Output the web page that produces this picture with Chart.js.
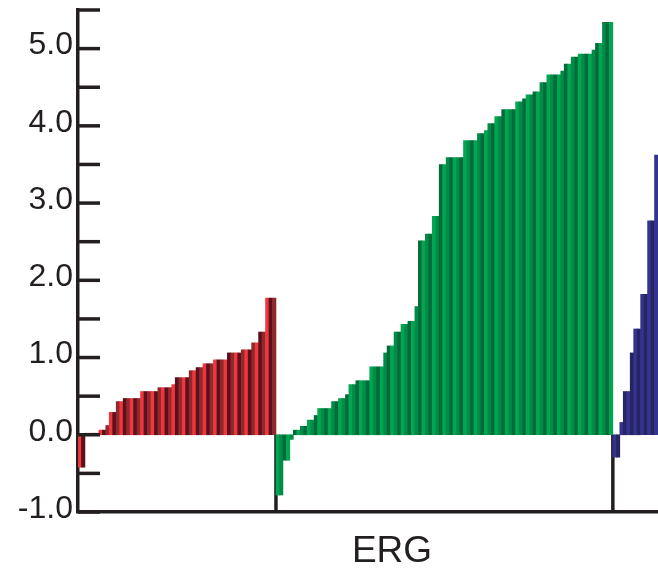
<!DOCTYPE html>
<html>
<head>
<meta charset="utf-8">
<script src="https://cdn.jsdelivr.net/npm/chart.js@4"></script>
<style>
  html, body { margin: 0; padding: 0; background: #fff; overflow: hidden; }
  canvas { display: block; }
</style>
</head>
<body>
<canvas id="ergChart" width="658" height="568"></canvas>
<script>
// bar heights, one entry per sample, left to right
const redValues = [-0.42, -0.42, 0.02, 0.02, 0.02, 0.02, 0.06, 0.06, 0.12, 0.29, 0.29, 0.43, 0.43,
  0.47, 0.47, 0.47, 0.47, 0.47, 0.56, 0.56, 0.56, 0.56, 0.56, 0.61, 0.61, 0.61, 0.61, 0.65,
  0.74, 0.74, 0.74, 0.74, 0.83, 0.83, 0.87, 0.87, 0.92, 0.92, 0.92, 0.97, 0.97, 0.97, 0.97,
  1.06, 1.06, 1.06, 1.06, 1.10, 1.10, 1.10, 1.19, 1.19, 1.33, 1.33, 1.77, 1.77, 1.77];

const greenValues = [-0.78, -0.78, -0.33, -0.33, -0.06, 0.06, 0.06, 0.11, 0.11, 0.19, 0.19, 0.25,
  0.34, 0.34, 0.34, 0.34, 0.43, 0.43, 0.47, 0.47, 0.52, 0.65, 0.65, 0.70, 0.70, 0.70, 0.70,
  0.88, 0.88, 0.88, 0.88, 1.06, 1.15, 1.15, 1.33, 1.33, 1.43, 1.43, 1.47, 1.47, 1.66,
  2.51, 2.51, 2.60, 2.60, 2.83, 2.83, 3.50, 3.50, 3.59, 3.59, 3.59, 3.59, 3.59,
  3.81, 3.81, 3.81, 3.81, 3.90, 3.90, 3.94, 4.03, 4.03, 4.12, 4.12,
  4.21, 4.21, 4.21, 4.21, 4.31, 4.31, 4.35, 4.40, 4.40, 4.44, 4.44, 4.56, 4.56,
  4.66, 4.66, 4.66, 4.66, 4.71, 4.80, 4.80, 4.89, 4.89, 4.93, 4.93, 4.93, 4.93, 4.98,
  5.07, 5.07, 5.34, 5.34, 5.34];

const blueValues = [-0.29, -0.29, 0.16, 0.56, 0.56, 1.06, 1.37, 1.37, 1.82, 1.82, 2.77, 2.77, 3.62];

const yTickLabels = ['-1.0', '0.0', '1.0', '2.0', '3.0', '4.0', '5.0'];
const xTitle = 'ERG';

const redShades = ['#ee363c', '#5c0f1c', '#8e2a2c'];
const greenShades = ['#00a651', '#008b46', '#006b39'];
const blueShades = ['#33348f', '#282462'];

const ink = '#231f20';

const values = [...redValues, ...greenValues, ...blueValues];
const categories = values.map((v, i) => 's' + (i + 1));

const colors = [];
redValues.forEach((v, i) => colors.push(redShades[i % redShades.length]));
greenValues.forEach((v, i) => colors.push(greenShades[i % greenShades.length]));
blueValues.forEach((v, i) => colors.push(blueShades[i % blueShades.length]));

// group boundaries (index of first bar of green and blue groups)
const groupStarts = [redValues.length, redValues.length + greenValues.length];

const decorations = {
  id: 'decorations',
  beforeDatasetsDraw(chart) {
    const { ctx, scales: { x, y } } = chart;
    const half = (x.getPixelForValue(1) - x.getPixelForValue(0)) / 2;
    ctx.save();
    ctx.strokeStyle = ink;
    ctx.lineWidth = 3.5;
    groupStarts.forEach((idx) => {
      const px = x.getPixelForValue(idx) - half;
      ctx.beginPath();
      ctx.moveTo(px, y.getPixelForValue(0));
      ctx.lineTo(px, y.getPixelForValue(-1));
      ctx.stroke();
    });
    ctx.restore();
  },
  afterDraw(chart) {
    const { ctx, chartArea, scales: { y } } = chart;
    ctx.save();
    // inward tick marks on the value axis
    ctx.strokeStyle = ink;
    ctx.lineWidth = 3.5;
    y.ticks.forEach((t) => {
      const py = y.getPixelForValue(t.value);
      ctx.beginPath();
      ctx.moveTo(chartArea.left, py);
      ctx.lineTo(chartArea.left + 22, py);
      ctx.stroke();
    });
    ctx.fillStyle = ink;
    ctx.font = '37px "Liberation Sans", Arial, sans-serif';
    ctx.textAlign = 'center';
    ctx.textBaseline = 'alphabetic';
    ctx.fillText(xTitle, 392, 562);
    ctx.restore();
  },
};

new Chart(document.getElementById('ergChart'), {
  type: 'bar',
  data: {
    labels: categories,
    datasets: [
      {
        data: values,
        backgroundColor: colors,
        borderWidth: 0,
        barPercentage: 1,
        categoryPercentage: 1,
      },
    ],
  },
  options: {
    responsive: false,
    animation: false,
    events: [],
    layout: { padding: { top: 10, right: 0, left: 0, bottom: 0 } },
    plugins: {
      legend: { display: false },
      tooltip: { enabled: false },
    },
    scales: {
      x: {
        grid: { display: false, drawTicks: false },
        border: { display: true, color: ink, width: 3.5 },
        ticks: { display: false },
        afterFit(scale) {
          scale.height = 56;
          scale.paddingLeft = 0;
          scale.paddingRight = 0;
        },
      },
      y: {
        min: -1,
        max: 5.5,
        grid: { display: false, drawTicks: false },
        border: { display: true, color: ink, width: 3.5 },
        ticks: {
          stepSize: 0.5,
          autoSkip: false,
          padding: 5,
          labelOffset: -3,
          color: ink,
          font: { family: '"Liberation Sans", Arial, sans-serif', size: 32 },
          callback: (v) => {
            const label = Number(v).toFixed(1);
            return yTickLabels.includes(label) ? label : '';
          },
        },
        afterFit(scale) {
          scale.width = 78;
          scale.paddingTop = 0;
          scale.paddingBottom = 0;
        },
      },
    },
  },
  plugins: [decorations],
});
</script>
</body>
</html>
